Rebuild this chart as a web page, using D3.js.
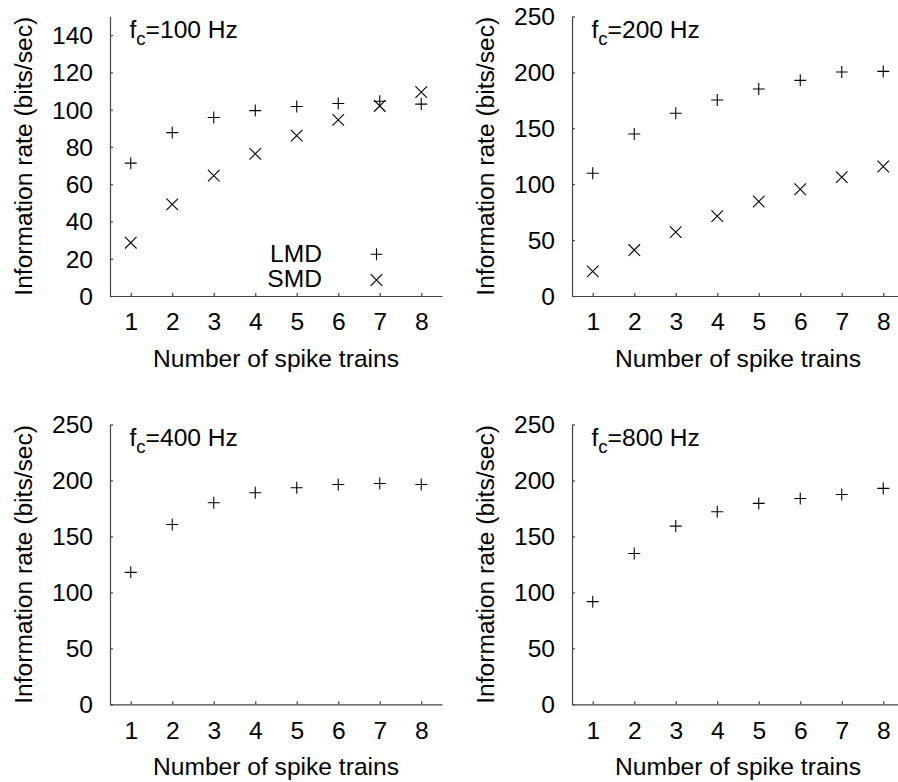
<!DOCTYPE html>
<html>
<head>
<meta charset="utf-8">
<script src="https://cdn.jsdelivr.net/npm/d3@7/dist/d3.min.js"></script>
<style>
  html, body { margin: 0; padding: 0; background: #fff; }
  svg { display: block; }
  text { font-family: "Liberation Sans", Arial, sans-serif; fill: #000; }
</style>
</head>
<body>
<svg id="chart" width="898" height="782"></svg>
<script>
// ---- data ----
const spikeTrains = [1, 2, 3, 4, 5, 6, 7, 8];
const lmd100 = [71.3, 87.7, 95.8, 99.5, 101.7, 103.3, 104.5, 103.0];
const smd100 = [28.6, 49.2, 64.6, 76.3, 86.1, 94.5, 102.0, 109.4];
const lmd200 = [109.8, 144.9, 163.4, 175.3, 185.1, 192.9, 200.3, 200.9];
const smd200 = [22.0, 41.1, 57.1, 71.4, 84.5, 95.5, 106.3, 115.8];
const lmd400 = [117.9, 160.7, 180.1, 189.0, 193.5, 196.4, 197.3, 196.4];
const lmd800 = [91.7, 134.8, 159.2, 172.0, 179.5, 183.9, 187.5, 192.9];
const yTicks100 = [0, 20, 40, 60, 80, 100, 120, 140];
const yTicks250 = [0, 50, 100, 150, 200, 250];
const cutoffLabels = ["100", "200", "400", "800"];
const seriesNames = ["LMD", "SMD"];

// ---- layout ----
const svg = d3.select("#chart");
const FS = 24.6;
const axisColor = "#444";

const panels = [
  { left: 110, top: 16.5, bottom: 296, ymax: 150, ticks: yTicks100, lmd: lmd100, smd: smd100, label: cutoffLabels[0], legend: true },
  { left: 572, top: 16.5, bottom: 296, ymax: 250, ticks: yTicks250, lmd: lmd200, smd: smd200, label: cutoffLabels[1] },
  { left: 110, top: 424.5, bottom: 704.3, ymax: 250, ticks: yTicks250, lmd: lmd400, smd: null, label: cutoffLabels[2] },
  { left: 572, top: 424.5, bottom: 704.3, ymax: 250, ticks: yTicks250, lmd: lmd800, smd: null, label: cutoffLabels[3] }
];
const plotWidth = 332;

function plus(g, cx, cy, r) {
  g.append("path")
    .attr("d", `M${cx - r},${cy}H${cx + r}M${cx},${cy - r}V${cy + r}`)
    .attr("stroke", "#000").attr("stroke-width", 1.1).attr("fill", "none");
}
function cross(g, cx, cy, r) {
  g.append("path")
    .attr("d", `M${cx - r},${cy - r}L${cx + r},${cy + r}M${cx - r},${cy + r}L${cx + r},${cy - r}`)
    .attr("stroke", "#000").attr("stroke-width", 1.1).attr("fill", "none");
}

panels.forEach(p => {
  const x = d3.scaleLinear().domain([0.5, 8.5]).range([p.left, p.left + plotWidth]);
  const y = d3.scaleLinear().domain([0, p.ymax]).range([p.bottom, p.top]);
  const g = svg.append("g");

  // x axis
  const xa = g.append("g")
    .attr("transform", `translate(0,${p.bottom})`)
    .call(d3.axisBottom(x).tickValues(spikeTrains).tickFormat(d3.format("d"))
      .tickSizeInner(-3).tickSizeOuter(0).tickPadding(17));
  // y axis
  const ya = g.append("g")
    .attr("transform", `translate(${p.left},0)`)
    .call(d3.axisLeft(y).tickValues(p.ticks).tickFormat(d3.format("d"))
      .tickSizeInner(-3).tickSizeOuter(0).tickPadding(17));
  [xa, ya].forEach(a => {
    a.selectAll("path, line").attr("stroke", axisColor).attr("stroke-width", 1.2);
    a.selectAll("text").attr("font-size", FS).attr("font-family", "Liberation Sans, Arial, sans-serif").attr("fill", "#000");
  });
  ya.selectAll("text").attr("dy", "0.34em");

  // axis titles
  g.append("text")
    .attr("x", (x.range()[0] + x.range()[1]) / 2)
    .attr("y", p.bottom + 71)
    .attr("text-anchor", "middle").attr("font-size", FS)
    .text("Number of spike trains");
  g.append("text")
    .attr("transform", `translate(${p.left - 78},${(p.top + p.bottom) / 2}) rotate(-90)`)
    .attr("text-anchor", "middle").attr("font-size", FS)
    .text("Information rate (bits/sec)");

  // panel annotation
  const t = g.append("text")
    .attr("x", p.left + 19.5).attr("y", p.top + 21.5).attr("font-size", FS);
  t.append("tspan").text("f");
  t.append("tspan").attr("font-size", 18.5).attr("dy", 7).text("c");
  t.append("tspan").attr("dy", -7).text("=" + p.label + " Hz");

  // data
  spikeTrains.forEach((n, i) => {
    plus(g, x(n), y(p.lmd[i]), 6);
    if (p.smd) cross(g, x(n), y(p.smd[i]), 5.8);
  });

  // legend
  if (p.legend) {
    const lx = p.left + 212, mx = p.left + 266.5;
    const rows = [{ name: seriesNames[0], by: 261.7, my: 254.3, f: plus },
                  { name: seriesNames[1], by: 286.7, my: 280, f: cross }];
    rows.forEach(r => {
      g.append("text").attr("x", lx).attr("y", r.by)
        .attr("text-anchor", "end").attr("font-size", FS).text(r.name);
      r.f(g, mx, r.my, r.f === plus ? 6 : 5.8);
    });
  }
});
</script>
</body>
</html>
